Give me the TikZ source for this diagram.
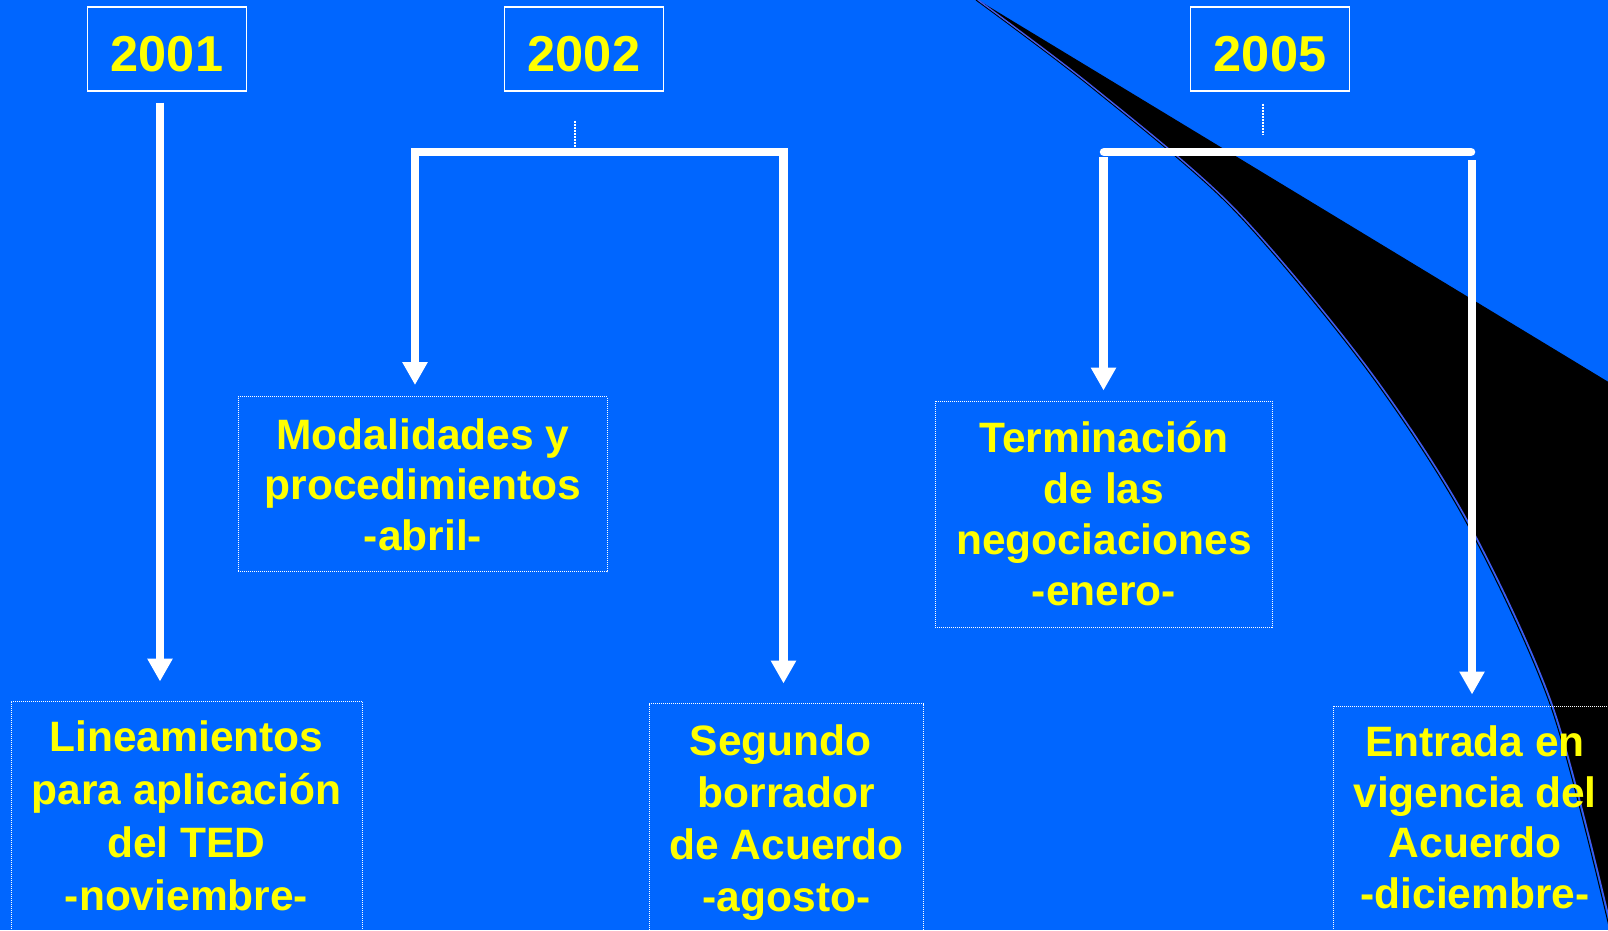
\documentclass[tikz,border=0pt]{standalone}
\usepackage{fontspec}
\setmainfont{Liberation Sans}
\usetikzlibrary{arrows.meta}
\definecolor{bgblue}{RGB}{0,102,255}
\definecolor{ylw}{RGB}{255,255,0}
\definecolor{edgeblue}{RGB}{70,90,235}
\newcommand\ssx{\rule[-0.214em]{0pt}{1.144em}}
\newcommand\tsp{\hspace*{0.278em}}
\begin{document}
\begin{tikzpicture}[x=1pt,y=-1pt,
  yearbox/.style={draw=white, line width=1.2pt, text=ylw, font=\fontsize{50.5}{56}\selectfont\bfseries, minimum width=159pt, minimum height=84pt, inner sep=0pt, text height=44pt, text depth=0pt},
  evbox/.style={draw=white, line width=1pt, densely dotted, inner sep=0pt},
  evtext/.style={text=ylw, align=center, inner sep=0pt, font=\fontsize{42.5}{#1}\selectfont\bfseries},
  wline/.style={draw=white, line width=8.5pt},
  arr/.style={wline, -{Triangle[width=24pt,length=23pt]}},
  darr/.style={wline, {Triangle[width=24pt,length=23pt]}-{Triangle[width=24pt,length=23pt]}, line join=miter},
  thinl/.style={draw=white, line width=1.2pt, dash pattern=on 2pt off 1pt}
]
\useasboundingbox (0,0) rectangle (1608,930);
\clip (0,0) rectangle (1608,930);
\fill[bgblue] (0,0) rectangle (1608,930);
% black wedge
\def\crv{(978,0) (1093,87) (1233,207) (1367,367) (1467,520) (1553,707) (1613,935)}
\fill[black] plot[smooth] coordinates {\crv} -- (1625,935) -- (1625,392) -- cycle;
\draw[black, line width=1pt, xshift=-2pt] plot[smooth] coordinates {\crv};
\draw[edgeblue, line width=1.3pt] plot[smooth] coordinates {\crv};
% year boxes
\node[yearbox] (y2001) at (167,49) {2001};
\node[yearbox] (y2002) at (584,49) {2002};
\node[yearbox] (y2005) at (1270,49) {2005};
% event boxes
\node[evbox, minimum width=351pt, minimum height=239pt] (b1) at (186.5,820.5) {};
\node[evbox, minimum width=369pt, minimum height=175pt] (b2) at (422.5,484) {};
\node[evbox, minimum width=274pt, minimum height=236.5pt] (b3) at (786,821.75) {};
\node[evbox, minimum width=337pt, minimum height=226pt] (b4) at (1103.5,514) {};
\node[evbox, minimum width=287pt, minimum height=234pt] (b5) at (1476.5,823) {};
% texts
\node[evtext=52.7] (t1) at (186.5,815.8) {\ssx Lineamientos\\\ssx para aplicación\\\ssx del TED\\\ssx -noviembre-};
\node[evtext=50.5] (t2) at (423,484.3) {\ssx Modalidades y\\\ssx procedimientos\\\ssx -abril-};
\node[evtext=52.2] (t3) at (786.5,818.1) {\ssx Segundo\tsp\\\ssx borrador\tsp\\\ssx de Acuerdo\\\ssx -agosto-};
\node[evtext=50.7] (t4) at (1104,513.8) {\ssx Terminación\\\ssx de las\tsp\\\ssx negociaciones\\\ssx -enero-};
\node[evtext=50.5] (t5) at (1475,817.3) {\ssx Entrada en\\\ssx vigencia del\\\ssx Acuerdo\\\ssx -diciembre-};
% 2001
\coordinate (x1) at (160,0);
\draw[arr, shorten <=11pt, shorten >=19pt] (y2001.south -| x1) -- (b1.north -| x1);
% 2002
\coordinate (bar2L) at (415,152);
\coordinate (bar2R) at (783.5,152);
\coordinate (s2) at (575,147);
\draw[thinl, shorten <=29pt] (y2002.south -| s2) -- (s2);
\draw[darr, shorten <=11pt, shorten >=19.5pt] (b2.north -| bar2L) -- (bar2L) -- (bar2R) -- (b3.north -| bar2R);
% 2005
\coordinate (bar5L) at (1104,152);
\coordinate (bar5R) at (1471,152);
\coordinate (s5) at (1263,135);
\coordinate (v5L) at (1103.5,157);
\coordinate (v5R) at (1472,160);
\draw[thinl, shorten <=12pt] (y2005.south -| s5) -- (s5);
\draw[wline, line cap=round] (bar5L) -- (bar5R);
\draw[arr, shorten >=10pt] (v5L) -- (b4.north -| v5L);
\draw[arr, shorten >=11pt] (v5R) -- (b5.north -| v5R);
\end{tikzpicture}
\end{document}
